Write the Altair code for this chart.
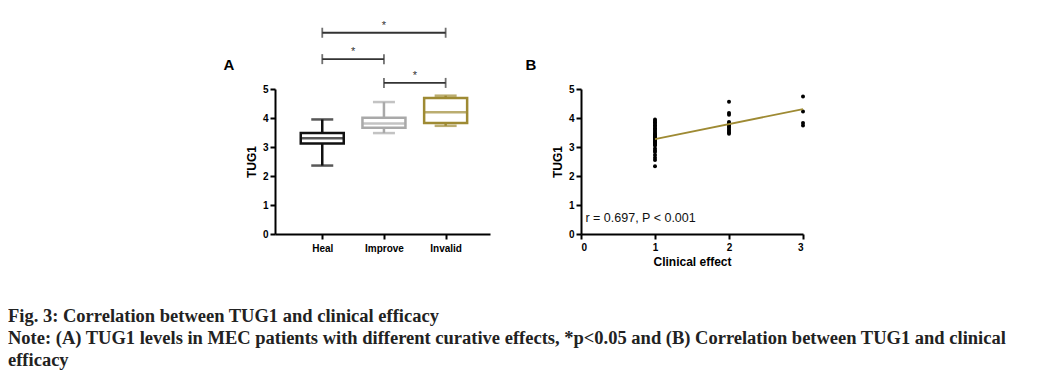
import altair as alt
import pandas as pd

# ---------------- Panel A data (box plot) ----------------
groups = ["Heal", "Improve", "Invalid"]
group_colors = ["#111111", "#a9a9a9", "#9e8a33"]
whisker_low = [2.36, 3.48, 3.73]
box_q1 = [3.12, 3.66, 3.83]
box_median = [3.30, 3.81, 4.20]
box_q3 = [3.48, 4.01, 4.69]
whisker_high = [3.95, 4.55, 4.77]

bracket_from = ["Heal", "Heal", "Improve"]
bracket_to = ["Invalid", "Improve", "Invalid"]
bracket_level = [6.94, 6.03, 5.21]
bracket_label = ["*", "*", "*"]

panel_letters = ["A", "B"]

# ---------------- Panel B data (scatter) ----------------
effect_1 = [3.95, 3.90, 3.85, 3.80, 3.75, 3.70, 3.65, 3.60, 3.55, 3.50, 3.45, 3.42,
            3.40, 3.36, 3.33, 3.30, 3.27, 3.24, 3.20, 3.16, 3.12, 3.08, 3.05, 2.95,
            2.88, 2.83, 2.72, 2.63, 2.55, 2.34]
effect_2 = [4.56, 4.17, 4.11, 3.86, 3.82, 3.78, 3.74, 3.70, 3.66, 3.60, 3.55, 3.50, 3.46]
effect_3 = [4.74, 4.22, 3.83, 3.74]
fit_x = [1, 3]
fit_y = [3.27, 4.31]
annot_text = ["r = 0.697, P < 0.001"]
annot_x = [0.06]
annot_y = [0.55]

caption_lines = [
    "Fig. 3: Correlation between TUG1 and clinical efficacy",
    "Note: (A) TUG1 levels in MEC patients with different curative effects, *p<0.05 and (B) Correlation between TUG1 and clinical",
    "efficacy",
]

# ---------------- tables ----------------
box_df = pd.DataFrame({
    "group": groups, "pos": list(range(len(groups))),
    "lo": whisker_low, "q1": box_q1, "med": box_median, "q3": box_q3, "hi": whisker_high,
})
br_df = pd.DataFrame({
    "x1": [groups.index(g) for g in bracket_from],
    "x2": [groups.index(g) for g in bracket_to],
    "y": bracket_level, "lab": bracket_label,
})
br_df["mid"] = (br_df["x1"] + br_df["x2"]) / 2
br_ends = pd.concat([
    pd.DataFrame({"end": br_df["x1"], "y": br_df["y"]}),
    pd.DataFrame({"end": br_df["x2"], "y": br_df["y"]}),
])

scatter_df = pd.DataFrame({
    "effect": [1] * len(effect_1) + [2] * len(effect_2) + [3] * len(effect_3),
    "tug1": effect_1 + effect_2 + effect_3,
})
fit_df = pd.DataFrame({"effect": fit_x, "tug1": fit_y})
annot_df = pd.DataFrame({"effect": annot_x, "tug1": annot_y, "t": annot_text})

FONT = "Liberation Sans"
PLOT_H = 145
axis_style = dict(
    labelFontSize=10, labelFontWeight="bold", labelColor="black", labelFont=FONT,
    titleFontSize=12, titleFontWeight="bold", titleColor="black", titleFont=FONT,
    domainColor="black", domainWidth=2, tickColor="black", tickWidth=2, tickSize=5,
    grid=False,
)

# ---------------- Panel A ----------------
yA_scale = alt.Scale(domain=[0, 5], nice=False, zero=True)
yA_axis = alt.Axis(values=[0, 1, 2, 3, 4, 5], title="TUG1", format="d", labelPadding=2, **axis_style)
xA_scale = alt.Scale(domain=[-0.685, 2.638], nice=False, zero=False)
xA_axis = alt.Axis(values=[0, 1, 2], title=None, labelPadding=4,
                   labelExpr="['Heal','Improve','Invalid'][datum.value]", **axis_style)

def xA(field):
    return alt.X(field, type="quantitative", scale=xA_scale, axis=xA_axis)

def yA(field):
    return alt.Y(field, type="quantitative", scale=yA_scale, axis=yA_axis)

colA = alt.Color("group:N", scale=alt.Scale(domain=groups, range=group_colors), legend=None)

whiskers = alt.Chart(box_df).mark_rule(strokeWidth=2.5).encode(
    x=xA("pos"), y=yA("lo"), y2="hi:Q", color=colA)
boxes = alt.Chart(box_df).mark_bar(size=43, fill="white", strokeWidth=2.5).encode(
    x=xA("pos"), y=yA("q1"), y2="q3:Q",
    stroke=alt.Stroke("group:N", scale=alt.Scale(domain=groups, range=group_colors), legend=None))
medians = alt.Chart(box_df).mark_tick(orient="horizontal", size=43, thickness=2.5).encode(
    x=xA("pos"), y=yA("med"), color=colA)
caps_lo = alt.Chart(box_df).mark_tick(orient="horizontal", size=22, thickness=2.5).encode(
    x=xA("pos"), y=yA("lo"), color=colA)
caps_hi = alt.Chart(box_df).mark_tick(orient="horizontal", size=22, thickness=2.5).encode(
    x=xA("pos"), y=yA("hi"), color=colA)

br_lines = alt.Chart(br_df).mark_rule(color="#333333", strokeWidth=1.8).encode(
    x=xA("x1"), x2="x2:Q", y=yA("y"))
br_ticks = alt.Chart(br_ends).mark_tick(orient="vertical", size=10, thickness=1.8, color="#333333").encode(
    x=xA("end"), y=yA("y"))
br_stars = alt.Chart(br_df).mark_text(fontSize=11, dy=-7, color="#333333", font=FONT).encode(
    x=xA("mid"), y=yA("y"), text="lab:N")

letterA = alt.Chart(pd.DataFrame({"t": [panel_letters[0]]})).mark_text(
    fontSize=15, fontWeight="bold", font=FONT, color="black").encode(
    text="t:N", x=alt.value(-46), y=alt.value(-24))

panelA = alt.layer(whiskers, boxes, medians, caps_lo, caps_hi,
                   br_lines, br_ticks, br_stars, letterA).properties(width=215, height=PLOT_H)

# ---------------- Panel B ----------------
xB_scale = alt.Scale(domain=[0, 3], nice=False)
xB_axis = alt.Axis(values=[0, 1, 2, 3], title="Clinical effect", format="d", labelPadding=3, **axis_style)
yB_axis = alt.Axis(values=[0, 1, 2, 3, 4, 5], title="TUG1", format="d", labelPadding=2, **axis_style)

def xB(field):
    return alt.X(field, type="quantitative", scale=xB_scale, axis=xB_axis)

def yB(field):
    return alt.Y(field, type="quantitative", scale=yA_scale, axis=yB_axis)

points = alt.Chart(scatter_df).mark_circle(size=16, color="black", opacity=1).encode(
    x=xB("effect"), y=yB("tug1"))
fit = alt.Chart(fit_df).mark_line(color="#9e8a33", strokeWidth=1.8).encode(
    x=xB("effect"), y=yB("tug1"))
annot = alt.Chart(annot_df).mark_text(align="left", baseline="middle", fontSize=12.5,
                                      font=FONT, color="#111111").encode(
    x=xB("effect"), y=yB("tug1"), text="t:N")
letterB = alt.Chart(pd.DataFrame({"t": [panel_letters[1]]})).mark_text(
    fontSize=15, fontWeight="bold", font=FONT, color="black").encode(
    text="t:N", x=alt.value(-50), y=alt.value(-24))

panelB = alt.layer(points, fit, annot, letterB).properties(width=222, height=PLOT_H)

# ---------------- spacer + caption ----------------
spacer = alt.Chart(pd.DataFrame({"t": [""]})).mark_text().encode(text="t:N").properties(width=176, height=1)

caption = alt.Chart(pd.DataFrame({"line": caption_lines, "row": list(range(len(caption_lines)))})).mark_text(
    align="left", baseline="alphabetic", font="Liberation Serif", fontSize=18.5,
    fontWeight="bold", color="#222222").encode(
    x=alt.value(0),
    y=alt.Y("row:O", axis=None, scale=alt.Scale(type="point", padding=0)),
    text="line:N").properties(width=1027, height=44)

top = alt.hconcat(spacer, panelA, panelB, spacing=91, bounds="flush")

chart = alt.vconcat(top, caption, spacing=40).properties(
    padding={"left": 0, "top": 11, "right": 0, "bottom": 0},
    background="white",
).configure_view(stroke=None)

chart.save("out.html", embed_options={"renderer": "svg", "actions": False})
